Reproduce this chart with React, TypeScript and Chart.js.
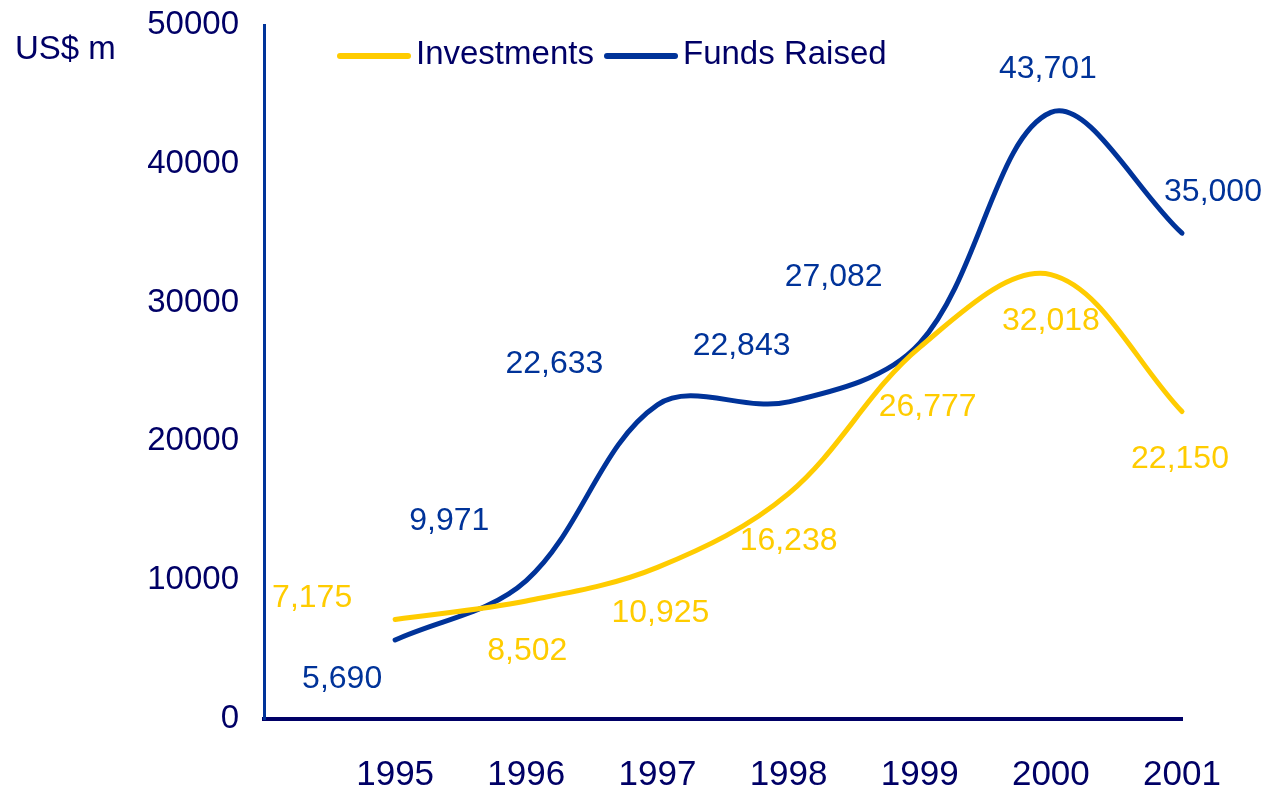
import React, { useEffect, useRef } from "react";
import { Chart, registerables } from "chart.js";

Chart.register(...registerables);

// ---- data ----
const years = [1995, 1996, 1997, 1998, 1999, 2000, 2001];
const investments = [7175, 8502, 10925, 16238, 26777, 32018, 22150];
const fundsRaised = [5690, 9971, 22633, 22843, 27082, 43701, 35000];
const yTickValues = [0, 10000, 20000, 30000, 40000, 50000];
const seriesNames = ["Investments", "Funds Raised"];
const unitLabel = "US$ m";

// ---- label placement (pixel offsets from each point) ----
const investmentLabelOffsets = [
  [-83, -21], [1, 50], [3, 46], [0, 48], [8, 60], [0, 47], [-2, 48],
];
const fundsLabelOffsets = [
  [-53, 39], [-77, -59], [-103, -41], [-47, -56], [-86, -66], [-3, -43], [31, -41],
];

const YELLOW = "#FFCC00";
const BLUE = "#003399";
const NAVY = "#000066";
const FONT = "'Liberation Sans', Arial, sans-serif";

const labelsPlugin = {
  id: "customLabels",
  afterDatasetsDraw(chart: any) {
    const ctx = chart.ctx;
    const offsetsList = [investmentLabelOffsets, fundsLabelOffsets];
    const colors = [YELLOW, BLUE];
    ctx.save();
    ctx.font = `32px ${FONT}`;
    ctx.textAlign = "center";
    ctx.textBaseline = "middle";
    chart.data.datasets.forEach((ds: any, i: number) => {
      const meta = chart.getDatasetMeta(i);
      ctx.fillStyle = colors[i];
      meta.data.forEach((el: any, j: number) => {
        const v = ds.data[j].y;
        const [dx, dy] = offsetsList[i][j];
        ctx.fillText(v.toLocaleString("en-US"), el.x + dx, el.y + dy);
      });
    });
    ctx.restore();
  },
  afterDraw(chart: any) {
    const ctx = chart.ctx;
    ctx.save();
    ctx.font = `33px ${FONT}`;
    ctx.textBaseline = "middle";
    ctx.textAlign = "left";
    ctx.fillStyle = NAVY;
    ctx.fillText(unitLabel, 15, 50);
    // legend
    const items = [
      { x: 340, color: YELLOW, text: seriesNames[0] },
      { x: 607, color: BLUE, text: seriesNames[1] },
    ];
    const ly = 56;
    items.forEach((it) => {
      ctx.strokeStyle = it.color;
      ctx.lineWidth = 6;
      ctx.lineCap = "round";
      ctx.beginPath();
      ctx.moveTo(it.x, ly);
      ctx.lineTo(it.x + 68, ly);
      ctx.stroke();
      ctx.fillStyle = NAVY;
      ctx.fillText(it.text, it.x + 76, ly - 1);
    });
    ctx.restore();
  },
};

export default function App() {
  const canvasRef = useRef<HTMLCanvasElement | null>(null);

  useEffect(() => {
    if (!canvasRef.current) return;
    const chart = new Chart(canvasRef.current, {
      type: "line",
      data: {
        datasets: [
          {
            label: seriesNames[0],
            data: years.map((y, i) => ({ x: y, y: investments[i] })),
            borderColor: YELLOW,
            backgroundColor: YELLOW,
            borderWidth: 5,
            pointRadius: 0,
            tension: 0.35,
            borderCapStyle: "round",
            borderJoinStyle: "round",
            clip: false as any,
          },
          {
            label: seriesNames[1],
            data: years.map((y, i) => ({ x: y, y: fundsRaised[i] })),
            borderColor: BLUE,
            backgroundColor: BLUE,
            borderWidth: 5,
            pointRadius: 0,
            tension: 0.35,
            borderCapStyle: "round",
            borderJoinStyle: "round",
            clip: false as any,
          },
        ],
      },
      options: {
        animation: false,
        responsive: true,
        maintainAspectRatio: false,
        layout: { padding: { top: 25, right: 87, left: 0, bottom: 0 } },
        plugins: {
          legend: { display: false },
          tooltip: { enabled: false },
        },
        scales: {
          x: {
            type: "linear",
            min: years[0] - 1,
            max: years[years.length - 1],
            grid: { display: false },
            border: { display: true, color: NAVY, width: 4 },
            afterBuildTicks: (scale: any) => {
              scale.ticks = years.map((v) => ({ value: v }));
            },
            ticks: {
              autoSkip: false,
              maxRotation: 0,
              padding: 27,
              color: NAVY,
              font: { family: FONT, size: 35 },
              callback: (v: any) => String(v),
            },
            afterFit: (scale: any) => {
              scale.height = 71;
              scale.paddingLeft = 0;
              scale.paddingRight = 0;
            },
          },
          y: {
            min: 0,
            max: 50000,
            grid: { display: false },
            border: { display: true, color: BLUE, width: 3 },
            afterBuildTicks: (scale: any) => {
              scale.ticks = yTickValues.map((v) => ({ value: v }));
            },
            ticks: {
              padding: 17,
              color: NAVY,
              font: { family: FONT, size: 33 },
              callback: (v: any) => String(v),
            },
            afterFit: (scale: any) => {
              scale.width = 264;
              scale.paddingTop = 0;
              scale.paddingBottom = 0;
            },
          },
        },
      },
      plugins: [labelsPlugin],
    } as any);
    return () => chart.destroy();
  }, []);

  return (
    <div style={{ position: "fixed", left: 0, top: 0, width: 1269, height: 790, background: "#fff" }}>
      <canvas ref={canvasRef} />
    </div>
  );
}
